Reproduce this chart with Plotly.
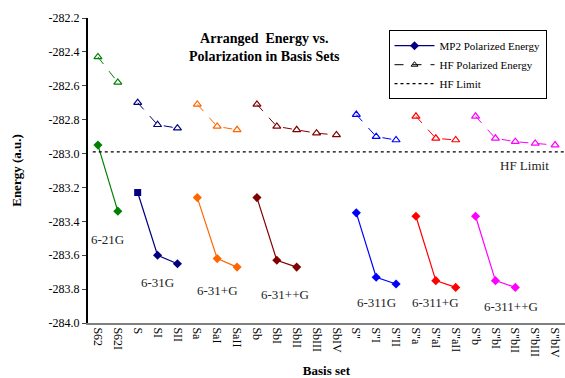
import plotly.graph_objects as go

categories = ['S62', 'S62I', 'S', 'SI', 'SII', 'Sa', 'SaI', 'SaII', 'Sb', 'SbI', 'SbII', 'SbIII', 'SbIV',
              'S"', 'S"I', 'S"II', 'S"a', 'S"aI', 'S"aII', 'S"b', 'S"bI', 'S"bII', 'S"bIII', 'S"bIV']

groups = ['6-21G', '6-31G', '6-31+G', '6-31++G', '6-311G', '6-311+G', '6-311++G']
colors = ['#008000', '#000080', '#FF6600', '#800000', '#0000FF', '#FF0000', '#FF00FF']

hf_x = [['S62', 'S62I'], ['S', 'SI', 'SII'], ['Sa', 'SaI', 'SaII'], ['Sb', 'SbI', 'SbII', 'SbIII', 'SbIV'],
        ['S"', 'S"I', 'S"II'], ['S"a', 'S"aI', 'S"aII'], ['S"b', 'S"bI', 'S"bII', 'S"bIII', 'S"bIV']]
hf_y = [[-282.43, -282.58], [-282.70, -282.83, -282.85], [-282.71, -282.84, -282.86],
        [-282.71, -282.84, -282.86, -282.88, -282.89], [-282.77, -282.90, -282.92],
        [-282.78, -282.91, -282.92], [-282.78, -282.91, -282.93, -282.94, -282.95]]

mp2_x = [['S62', 'S62I'], ['S', 'SI', 'SII'], ['Sa', 'SaI', 'SaII'], ['Sb', 'SbI', 'SbII'],
         ['S"', 'S"I', 'S"II'], ['S"a', 'S"aI', 'S"aII'], ['S"b', 'S"bI', 'S"bII']]
mp2_y = [[-282.95, -283.34], [-283.23, -283.60, -283.65], [-283.26, -283.62, -283.67],
         [-283.26, -283.63, -283.67], [-283.35, -283.73, -283.77],
         [-283.37, -283.75, -283.79], [-283.37, -283.75, -283.79]]

hf_limit = -282.99

y_ticks = [-284.0, -283.8, -283.6, -283.4, -283.2, -283.0, -282.8, -282.6, -282.4, -282.2]
y_ticktext = ['-284.0', '-283.8', '-283.6', '-283.4', '-283.2', '-283.0', '-282.8', '-282.6', '-282.4', '-282.2']

# group label positions (category index, value)
label_pos = [(0.5, -283.51), (3.0, -283.76), (6.0, -283.81), (9.4, -283.83),
             (14.0, -283.88), (17.0, -283.88), (20.8, -283.90)]

idx = {c: i for i, c in enumerate(categories)}
FONT = 'Liberation Serif'

fig = go.Figure()

for g, col, xs, ys in zip(groups, colors, hf_x, hf_y):
    fig.add_trace(go.Scatter(x=[idx[c] for c in xs], y=ys, mode='lines+markers',
                             line=dict(color=col, width=1, dash='dash'),
                             marker=dict(symbol='triangle-up-open', size=7, color=col, line=dict(width=1.2)),
                             showlegend=False, hoverinfo='y'))

for i, (g, col, xs, ys) in enumerate(zip(groups, colors, mp2_x, mp2_y)):
    syms = ['diamond'] * len(xs)
    if g == '6-31G':
        syms[0] = 'square'
    fig.add_trace(go.Scatter(x=[idx[c] for c in xs], y=ys, mode='lines+markers',
                             line=dict(color=col, width=1.2),
                             marker=dict(symbol=syms, size=7, color=col),
                             showlegend=False, hoverinfo='y'))

# HF limit line across the plot
fig.add_shape(type='line', xref='paper', x0=0.01, x1=1, yref='y', y0=hf_limit, y1=hf_limit,
              line=dict(color='black', width=1.2, dash='dot'))

# legend entries
fig.add_trace(go.Scatter(x=[None], y=[None], mode='lines+markers', name='MP2 Polarized Energy',
                         line=dict(color='#000080', width=1.2),
                         marker=dict(symbol='diamond', size=7, color='#000080')))
fig.add_trace(go.Scatter(x=[None], y=[None], mode='lines+markers', name='HF Polarized Energy',
                         line=dict(color='black', width=1, dash='dash'),
                         marker=dict(symbol='triangle-up-open', size=6, color='black')))
fig.add_trace(go.Scatter(x=[None], y=[None], mode='lines', name='HF Limit',
                         line=dict(color='black', width=1.2, dash='dot')))

for g, (xv, v) in zip(groups, label_pos):
    fig.add_annotation(x=xv, y=v, text=g, showarrow=False, font=dict(family=FONT, size=13, color='#222'))

fig.add_annotation(x=21.45, y=hf_limit - 0.08, text='HF Limit', showarrow=False,
                   font=dict(family=FONT, size=13, color='#222'))

fig.add_annotation(xref='paper', yref='paper', x=0.37, y=0.965,
                   text='<b>Arranged  Energy vs.<br>Polarization in Basis Sets</b>', showarrow=False,
                   font=dict(family=FONT, size=14, color='black'), align='center')

fig.update_layout(
    width=565, height=378,
    margin=dict(l=88, r=0, t=18, b=55),
    paper_bgcolor='white', plot_bgcolor='white',
    font=dict(family=FONT, size=12, color='black'),
    legend=dict(x=0.63, y=0.96, xanchor='left', yanchor='top', bgcolor='white',
                bordercolor='black', borderwidth=1, font=dict(family=FONT, size=11),
                tracegroupgap=0, itemwidth=40),
    xaxis=dict(range=[-0.5, 23.5], tickmode='array', tickvals=list(range(len(categories))),
               ticktext=categories, tickangle=90, showgrid=False, zeroline=False,
               showline=True, linecolor='#808080', linewidth=2, ticks='', tickfont=dict(family=FONT, size=12),
               title=dict(text='<b>Basis set</b>', font=dict(family=FONT, size=13), standoff=10)),
    yaxis=dict(range=[-284.0, -282.2], tickmode='array', tickvals=y_ticks, ticktext=y_ticktext,
               showgrid=False, zeroline=False, showline=True, linecolor='black', linewidth=2,
               ticks='outside', ticklen=4, tickwidth=1, tickfont=dict(family=FONT, size=12),
               title=dict(text='<b>Energy (a.u.)</b>', font=dict(family=FONT, size=13), standoff=24)),
)

fig.write_html('out.html')
